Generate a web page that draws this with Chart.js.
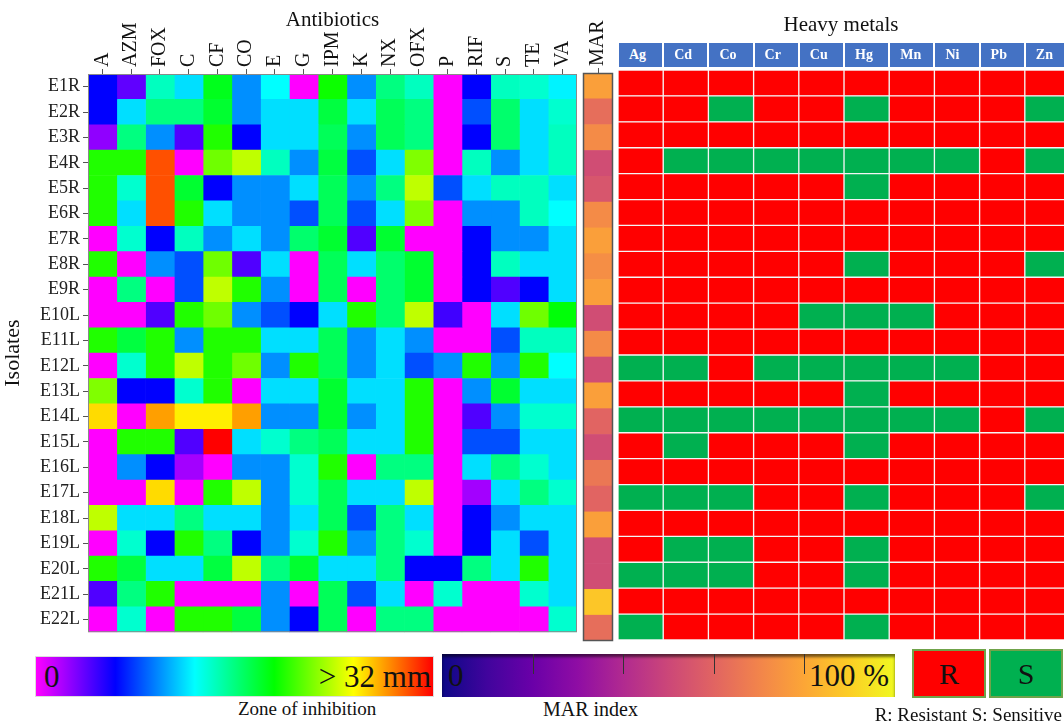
<!DOCTYPE html>
<html lang="en">
<head>
<meta charset="UTF-8">
<title>Antibiotic and heavy metal resistance of isolates</title>
<script src="https://cdn.jsdelivr.net/npm/chart.js"></script>
<style>
  body {
    margin: 0;
    width: 1064px;
    height: 726px;
    overflow: hidden;
    position: relative;
    background: #fff;
    font-family: 'Liberation Serif', 'Times New Roman', serif;
    color: #111;
  }
  canvas, .abs { position: absolute; }
  .hm-head {
    position: absolute;
    top: 43px;
    height: 24px;
    line-height: 24px;
    background: #4472c4;
    color: #fff;
    font-weight: bold;
    font-size: 14px;
    padding-left: 10px;
    box-sizing: border-box;
  }
  .bar-text { position: absolute; top: 0; line-height: 43px; font-size: 31px; }
  .cap { position: absolute; font-size: 19px; white-space: nowrap; }
  .key {
    position: absolute;
    top: 649px;
    height: 49px;
    box-sizing: border-box;
    border: 2px solid #6fa34a;
    text-align: center;
    line-height: 45px;
    font-size: 30px;
  }
</style>
</head>
<body>
<canvas id="abChart" width="580" height="646" style="left:0;top:0"></canvas>
<canvas id="marChart" width="60" height="646" style="left:560px;top:0"></canvas>
<canvas id="hmChart" width="460" height="646" style="left:610px;top:0"></canvas>

<div class="cap" style="left:618px;width:446px;top:12px;text-align:center;font-size:21px">Heavy metals</div>
<div id="hmHeader"></div>

<!-- colour keys -->
<div class="abs" style="left:35px;top:656px;width:399px;height:41px;border:1px solid #ddd;box-sizing:border-box;
  background:linear-gradient(to right,#f0f,#00f,#0ff,#0f0,#ff0,#f00)">
  <span class="bar-text" style="left:8px;line-height:39px">0</span>
  <span class="bar-text" style="right:2px;line-height:39px">&gt; 32 mm</span>
</div>
<div class="cap" style="left:238px;top:698px">Zone of inhibition</div>

<div id="marBar" class="abs" style="left:442px;top:654px;width:453px;height:43px;box-shadow:inset 0 3px 3px rgba(0,0,0,0.55)">
  <span class="bar-text" style="left:6px">0</span>
  <span class="bar-text" style="right:6px">100 %</span>
</div>
<div class="cap" style="left:543px;top:698px;font-size:20px">MAR index</div>

<div class="key" style="left:912px;width:74px;background:#ff0000">R</div>
<div class="key" style="left:989px;width:74px;background:#00b050">S</div>
<div class="cap" style="right:2px;top:704px">R: Resistant S: Sensitive</div>

<script>
    const isolates = ['E1R', 'E2R', 'E3R', 'E4R', 'E5R', 'E6R', 'E7R', 'E8R', 'E9R', 'E10L', 'E11L',
        'E12L', 'E13L', 'E14L', 'E15L', 'E16L', 'E17L', 'E18L', 'E19L', 'E20L', 'E21L', 'E22L'];
    const antibiotics = ['A', 'AZM', 'FOX', 'C', 'CF', 'CO', 'E', 'G', 'IPM', 'K', 'NX', 'OFX', 'P', 'RIF', 'S', 'TE', 'VA'];
    const metals = ['Ag', 'Cd', 'Co', 'Cr', 'Cu', 'Hg', 'Mn', 'Ni', 'Pb', 'Zn'];

    // zone of inhibition (mm), one row per isolate, columns in antibiotic order
    const zoneMm = [
        [6.4, 4, 14.4, 12, 18.5, 10, 12.8, 0, 19.5, 10, 16, 14.4, 0, 6.4, 14.4, 14, 12.5],
        [6.4, 12, 16, 16, 18, 10, 12, 12, 17.6, 12, 17, 16, 0, 8.4, 16.5, 12, 14],
        [2.8, 16, 10, 4.4, 20, 6.4, 12, 12, 17, 10, 17, 16, 0, 6.4, 16.5, 12, 14.4],
        [20, 20, 30, 0, 22, 24, 14.4, 10, 17.6, 8.4, 12, 22.4, 0, 14.4, 10, 12, 14.4],
        [20, 14, 30, 18, 6.4, 10, 10, 12, 17, 10, 16, 24, 8.4, 12, 14.4, 14.4, 12],
        [20, 12, 30, 20, 12, 10, 10, 8.4, 17, 8.4, 12, 22.4, 0, 10, 10, 14.4, 12.8],
        [0, 14, 6.4, 14.4, 10, 12, 10, 16.5, 18, 4.4, 18, 0, 0, 6.4, 10, 10, 12],
        [20, 0, 10, 8.4, 22, 4.4, 12, 0, 17, 12, 16.5, 18, 0, 6.4, 14.4, 12, 12],
        [0, 16, 0, 8.4, 24, 20, 10, 0, 17, 0, 16.5, 18, 0, 6.4, 4.4, 6.4, 12],
        [0, 0, 4.4, 20, 22, 10, 8.4, 6.4, 12, 20, 16.5, 24, 4.8, 0, 12, 22, 19],
        [20, 17.6, 20, 10, 20, 20, 12, 12, 17, 10, 12, 10, 0, 0, 8.4, 14.4, 14.4],
        [0, 14, 20, 24, 20, 22, 10, 20, 17, 10, 12, 8.4, 10, 20, 10, 20, 12.8],
        [22.4, 6.4, 6.4, 14, 20, 0, 12, 12, 18, 12, 12, 20, 0, 10, 18, 12, 12],
        [26.5, 0, 28, 26, 26, 28, 10, 10, 18, 10, 12, 20, 0, 4.4, 10, 14, 14],
        [0, 20, 20, 4.4, 32, 12, 14, 16, 17, 12, 12, 20, 0, 8.4, 8.4, 12, 12],
        [0, 10, 6.4, 2.3, 0, 10, 10, 14, 20, 0, 16, 16, 0, 12, 16, 14, 12],
        [0, 0, 26.5, 0, 20, 24, 10, 14, 17, 12, 12, 24, 0, 2.3, 12, 16, 14],
        [24, 12, 12, 16, 12, 12, 10, 12, 17, 8.4, 16, 12, 0, 6.4, 10, 12, 12],
        [0, 14, 6.4, 20, 16, 6.4, 10, 14, 20, 10, 16, 14, 0, 6.4, 12, 8.4, 12],
        [20, 17.6, 12, 12, 17.6, 24, 16, 18, 12, 12, 16, 6.4, 6.4, 16, 12, 20, 12],
        [4.4, 16, 20, 0, 0, 0, 10, 0, 17, 8.4, 12, 0, 14, 0, 0, 14, 12],
        [0, 14, 0, 20, 20, 17.6, 10, 6.4, 17, 0, 16, 16, 0, 0, 0, 0, 14]
    ];

    // multiple antibiotic resistance index, %
    const marIndex = [78, 63, 72, 52, 55, 72, 78, 73, 78, 52, 72, 52, 78, 60, 52, 66, 60, 78, 52, 52, 88, 63];

    // heavy metals: 1 = resistant, 0 = sensitive (columns in metal order)
    const metalRes = [
        [1, 1, 1, 1, 1, 1, 1, 1, 1, 1],
        [1, 1, 0, 1, 1, 0, 1, 1, 1, 0],
        [1, 1, 1, 1, 1, 1, 1, 1, 1, 1],
        [1, 0, 0, 0, 0, 0, 0, 0, 1, 0],
        [1, 1, 1, 1, 1, 0, 1, 1, 1, 1],
        [1, 1, 1, 1, 1, 1, 1, 1, 1, 1],
        [1, 1, 1, 1, 1, 1, 1, 1, 1, 1],
        [1, 1, 1, 1, 1, 0, 1, 1, 1, 0],
        [1, 1, 1, 1, 1, 1, 1, 1, 1, 1],
        [1, 1, 1, 1, 0, 0, 0, 1, 1, 1],
        [1, 1, 1, 1, 1, 1, 1, 1, 1, 1],
        [0, 0, 1, 0, 0, 0, 0, 0, 1, 1],
        [1, 1, 1, 1, 1, 0, 1, 1, 1, 1],
        [0, 0, 0, 0, 0, 0, 0, 0, 1, 0],
        [1, 0, 1, 1, 1, 0, 1, 1, 1, 1],
        [1, 1, 1, 1, 1, 1, 1, 1, 1, 1],
        [0, 0, 0, 1, 1, 0, 1, 1, 1, 0],
        [1, 1, 1, 1, 1, 1, 1, 1, 1, 1],
        [1, 0, 0, 1, 1, 0, 1, 1, 1, 1],
        [0, 0, 0, 1, 1, 0, 1, 1, 1, 1],
        [1, 1, 1, 1, 1, 1, 1, 1, 1, 1],
        [0, 1, 1, 1, 1, 0, 1, 1, 1, 1]
    ];

    const zoneMax = 32;
    const serif = "'Liberation Serif', 'Times New Roman', serif";
    const plasma = ['#0d0887', '#41049d', '#6a00a8', '#8f0da4', '#b12a90', '#cc4778',
        '#e16462', '#f2844b', '#fca636', '#fcce25', '#f0f921'];

    // hsv-like ramp: magenta (0 mm) -> blue -> cyan -> green -> yellow -> red (>32 mm)
    function zoneColor(v) {
        const t = Math.min(v, zoneMax) / zoneMax;
        return 'hsl(' + (300 * (1 - t)).toFixed(1) + ', 100%, 50%)';
    }

    function hexRgb(h) {
        return [1, 3, 5].map(i => parseInt(h.substr(i, 2), 16));
    }

    function marColor(p) {
        const t = Math.max(0, Math.min(1, p / 100)) * 10;
        const i = Math.min(9, Math.floor(t));
        const f = t - i;
        const a = hexRgb(plasma[i]), b = hexRgb(plasma[i + 1]);
        const c = a.map((x, k) => Math.round(x + (b[k] - x) * f));
        return 'rgb(' + c.join(',') + ')';
    }

    // thin frame around the plot area
    const frame = {
        id: 'frame',
        afterDatasetsDraw(chart, args, opts) {
            if (!opts.color) return;
            const a = chart.chartArea;
            const ctx = chart.ctx;
            ctx.save();
            ctx.strokeStyle = opts.color;
            ctx.lineWidth = opts.width || 1;
            ctx.strokeRect(a.left + 0.5, a.top + 0.5, a.right - a.left - 1, a.bottom - a.top - 1);
            ctx.restore();
        }
    };

    const tickGrid = { drawOnChartArea: false, tickLength: 5, color: '#555' };
    const topFont = 20;
    // rotated labels on a top axis sit about one line height left of their tick
    const topLabelShift = topFont * 1.2;

    // antibiotic heat map: stacked horizontal bars, one dataset per antibiotic
    new Chart(document.getElementById('abChart'), {
        type: 'bar',
        data: {
            labels: isolates,
            datasets: antibiotics.map((ab, j) => ({
                label: ab,
                data: isolates.map(() => 1),
                backgroundColor: zoneMm.map(row => zoneColor(row[j])),
                borderWidth: 0,
                barPercentage: 1,
                categoryPercentage: 1
            }))
        },
        options: {
            indexAxis: 'y',
            responsive: false,
            animation: false,
            layout: { padding: { right: 3, bottom: 5 } },
            plugins: {
                legend: { display: false },
                tooltip: { enabled: false },
                frame: { color: '#8a8a8a', width: 1 }
            },
            scales: {
                x: {
                    type: 'linear',
                    position: 'top',
                    stacked: true,
                    min: 0,
                    max: antibiotics.length,
                    afterBuildTicks: s => { s.ticks = antibiotics.map((_, i) => ({ value: i + 0.5 })); },
                    afterFit: s => { s.height = 74; },
                    ticks: {
                        autoSkip: false,
                        minRotation: 90,
                        maxRotation: 90,
                        padding: 2,
                        labelOffset: topLabelShift,
                        color: '#111',
                        font: { family: serif, size: topFont },
                        callback: (v, i) => antibiotics[i]
                    },
                    grid: tickGrid,
                    border: { display: false },
                    title: {
                        display: true,
                        text: 'Antibiotics',
                        color: '#111',
                        font: { family: serif, size: 21 },
                        padding: { top: 8, bottom: 0 }
                    }
                },
                y: {
                    stacked: true,
                    afterFit: s => { s.width = 88; },
                    ticks: { color: '#222', padding: 3, font: { family: serif, size: 18 } },
                    grid: Object.assign({ offset: false }, tickGrid),
                    border: { display: false },
                    title: {
                        display: true,
                        text: 'Isolates',
                        color: '#111',
                        font: { family: serif, size: 22 },
                        padding: { top: 0, bottom: 0 }
                    }
                }
            }
        },
        plugins: [frame]
    });

    // MAR index column
    new Chart(document.getElementById('marChart'), {
        type: 'bar',
        data: {
            labels: isolates,
            datasets: [{
                label: 'MAR',
                data: isolates.map(() => 1),
                backgroundColor: marIndex.map(marColor),
                borderWidth: 0,
                barPercentage: 1,
                categoryPercentage: 1
            }]
        },
        options: {
            indexAxis: 'y',
            responsive: false,
            animation: false,
            layout: { padding: { left: 23, right: 7, bottom: 5 } },
            plugins: {
                legend: { display: false },
                tooltip: { enabled: false },
                frame: { color: '#555', width: 1.5 }
            },
            scales: {
                x: {
                    type: 'linear',
                    position: 'top',
                    min: 0,
                    max: 1,
                    afterBuildTicks: s => { s.ticks = [{ value: 0.5 }]; },
                    afterFit: s => { s.height = 73; },
                    ticks: {
                        minRotation: 90,
                        maxRotation: 90,
                        padding: 2,
                        labelOffset: topLabelShift,
                        color: '#111',
                        font: { family: serif, size: topFont },
                        callback: () => 'MAR'
                    },
                    grid: tickGrid,
                    border: { display: false }
                },
                y: { display: false }
            }
        },
        plugins: [frame]
    });

    // heavy metal resistance grid
    const hmChart = new Chart(document.getElementById('hmChart'), {
        type: 'bar',
        data: {
            labels: isolates,
            datasets: metals.map((m, j) => ({
                label: m,
                data: isolates.map(() => 1),
                backgroundColor: metalRes.map(r => r[j] ? '#ff0000' : '#00b050'),
                borderColor: '#f4f4f4',
                borderWidth: 1,
                borderSkipped: false,
                barPercentage: 1,
                categoryPercentage: 1
            }))
        },
        options: {
            indexAxis: 'y',
            responsive: false,
            animation: false,
            layout: { padding: { left: 8, top: 70, right: 0, bottom: 6 } },
            plugins: { legend: { display: false }, tooltip: { enabled: false } },
            scales: {
                x: { stacked: true, min: 0, max: metals.length, display: false },
                y: { stacked: true, display: false }
            }
        }
    });

    // header cells above the metal grid, placed with the chart's own x scale
    const hx = hmChart.scales.x;
    const head = document.getElementById('hmHeader');
    metals.forEach((m, i) => {
        const x0 = hx.getPixelForValue(i), x1 = hx.getPixelForValue(i + 1);
        const d = document.createElement('div');
        d.className = 'hm-head';
        d.style.left = (610 + x0 + 1) + 'px';
        d.style.width = (x1 - x0 - 2) + 'px';
        d.textContent = m;
        head.appendChild(d);
    });

    // MAR colour bar with its minor ticks
    const marBar = document.getElementById('marBar');
    marBar.style.background = 'linear-gradient(to right,' + plasma.join(',') + ')';
    [20, 40, 60, 80].forEach(p => {
        const t = document.createElement('div');
        t.className = 'abs';
        t.style.cssText = 'left:' + p + '%;top:0;width:1px;height:20px;background:#333;position:absolute';
        marBar.appendChild(t);
    });
</script>
</body>
</html>
